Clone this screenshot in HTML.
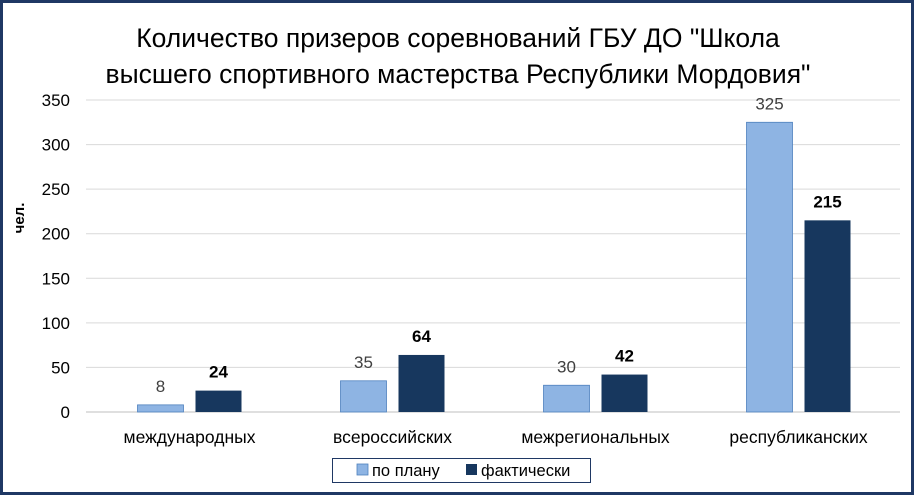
<!DOCTYPE html>
<html><head><meta charset="utf-8"><style>
body{margin:0;background:#fff}
svg{display:block;font-family:"Liberation Sans","DejaVu Sans",sans-serif}
</style></head><body>
<svg id="c" width="916" height="497" viewBox="0 0 916 497">
<rect x="1.5" y="1.5" width="911" height="492" fill="#fff" stroke="#1F3864" stroke-width="3"/>
<text x="458" y="47" text-anchor="middle" font-size="26.5" fill="#000">Количество призеров соревнований ГБУ ДО "Школа</text>
<text x="458" y="83" text-anchor="middle" font-size="26.5" fill="#000">высшего спортивного мастерства Республики Мордовия"</text>
<text transform="translate(24,218) rotate(-90)" text-anchor="middle" font-size="15" font-weight="bold">чел.</text>
<g id="grid"></g><g id="bars"></g>
<rect x="332.5" y="458.5" width="258" height="24" fill="#fff" stroke="#1F3864"/>
<rect x="357" y="464" width="11" height="11" fill="#8EB4E3" stroke="#4F81BD" stroke-width="0.8"/>
<text x="372" y="476" font-size="16.5">по плану</text>
<rect x="466" y="464" width="11" height="11" fill="#17375E"/>
<text x="481" y="476" font-size="16.5">фактически</text>
</svg>
<script>
const categories=["международных","всероссийских","межрегиональных","республиканских"];
const plan=[8,35,30,325];
const fact=[24,64,42,215];
const ticks=[0,50,100,150,200,250,300,350];
const NS="http://www.w3.org/2000/svg";
const x0=88,x1=900,y0=412,yTop=100,max=350;
const y=v=>y0-(v/max)*(y0-yTop);
const bw=(x1-x0)/categories.length;
const cx=i=>x0+bw*(i+0.5);
function mk(t,a,p){const e=document.createElementNS(NS,t);for(const k in a)e.setAttribute(k,a[k]);p.appendChild(e);return e;}
const g=document.getElementById('grid'),b=document.getElementById('bars');
ticks.forEach(t=>{
 const l=mk('line',{x1:x0-2,x2:x1,y1:y(t),y2:y(t),stroke:t===0?'#BFBFBF':'#D9D9D9','stroke-width':1},g);
 
 
 const tx=mk('text',{x:70,y:y(t)+6,'text-anchor':'end','font-size':17,fill:'#000'},g);
 tx.textContent=t;
 
 
});
categories.forEach((c,i)=>{
 const w=46,gap=12;
 const r1=mk('rect',{x:cx(i)-gap/2-w,y:y(plan[i]),width:w,height:y0-y(plan[i]),fill:'#8EB4E3',stroke:'#4F81BD','stroke-width':0.8},b);
 
 
 const r2=mk('rect',{x:cx(i)+gap/2,y:y(fact[i]),width:w,height:y0-y(fact[i]),fill:'#17375E'},b);
 
 
 const l1=mk('text',{x:cx(i)-gap/2-w/2,y:y(plan[i])-13,'text-anchor':'middle','font-size':17,fill:'#404040'},b);
 l1.textContent=plan[i];
 
 
 const l2=mk('text',{x:cx(i)+gap/2+w/2,y:y(fact[i])-13,'text-anchor':'middle','font-size':17,'font-weight':'bold',fill:'#000'},b);
 l2.textContent=fact[i];
 
 
 const ct=mk('text',{x:cx(i),y:443,'text-anchor':'middle','font-size':17.5,fill:'#000'},b);
 ct.textContent=c;
 
 
});
</script>
</body></html>
